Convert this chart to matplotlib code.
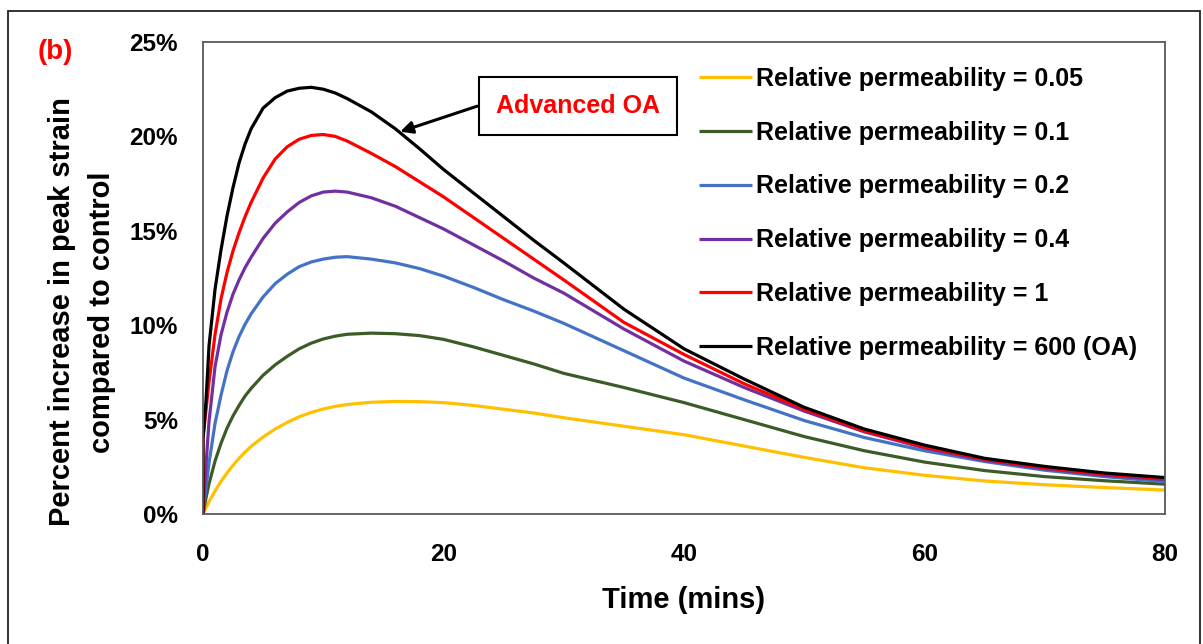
import matplotlib
matplotlib.use("Agg")
import matplotlib.pyplot as plt
from matplotlib.patches import Rectangle

plt.rcParams['font.family'] = ['Liberation Sans', 'DejaVu Sans']
plt.rcParams['font.weight'] = 'bold'

# ---- data (time in minutes, values in percent) ----
time = [0, 0, 0.25, 0.5, 1, 1.5, 2, 2.5, 3, 3.5, 4, 5, 6, 7, 8, 9, 10, 11, 12, 14, 16, 18, 20,
        22.5, 25, 27.5, 30, 35, 40, 45, 50, 55, 60, 65, 70, 75, 80]

perm_005 = [0, 0, 0.33, 0.65, 1.22, 1.73, 2.18, 2.58, 2.95, 3.28, 3.58, 4.08, 4.5, 4.85, 5.15, 5.38, 5.56, 5.7, 5.8,
            5.92, 5.96, 5.95, 5.9, 5.75, 5.55, 5.35, 5.1, 4.65, 4.2, 3.6, 3.0, 2.45, 2.05, 1.75, 1.55, 1.4, 1.27]
perm_01 = [0, 0, 0.85, 1.6, 2.8, 3.75, 4.55, 5.2, 5.75, 6.25, 6.65, 7.35, 7.9, 8.35, 8.75, 9.05, 9.27, 9.42, 9.52,
           9.58, 9.55, 9.45, 9.25, 8.85, 8.4, 7.95, 7.45, 6.7, 5.9, 5.0, 4.1, 3.35, 2.75, 2.3, 1.98, 1.76, 1.58]
perm_02 = [0, 0, 1.4, 2.7, 4.8, 6.3, 7.6, 8.6, 9.4, 10.05, 10.6, 11.5, 12.2, 12.7, 13.1, 13.35, 13.5, 13.6, 13.63,
           13.5, 13.3, 13.0, 12.6, 12.0, 11.35, 10.75, 10.1, 8.65, 7.2, 6.05, 4.95, 4.05, 3.35, 2.78, 2.32, 1.98, 1.71]
perm_04 = [0, 0, 2.6, 4.9, 7.8, 9.5, 10.7, 11.65, 12.4, 13.05, 13.6, 14.6, 15.4, 16.0, 16.5, 16.85, 17.05, 17.1, 17.05,
           16.75, 16.3, 15.7, 15.1, 14.25, 13.4, 12.5, 11.7, 9.8, 8.1, 6.7, 5.45, 4.35, 3.5, 2.85, 2.4, 2.05, 1.82]
perm_1 = [0, 4.0, 5.5, 7.0, 9.5, 11.4, 12.8, 13.95, 14.9, 15.75, 16.5, 17.8, 18.8, 19.45, 19.85, 20.05, 20.1, 20.0, 19.75,
          19.1, 18.4, 17.6, 16.8, 15.7, 14.6, 13.5, 12.4, 10.15, 8.45, 6.9, 5.55, 4.4, 3.55, 2.9, 2.45, 2.1, 1.88]
perm_600 = [0, 4.0, 6.0, 8.9, 11.9, 14.0, 15.8, 17.3, 18.6, 19.6, 20.4, 21.5, 22.05, 22.4, 22.55, 22.6, 22.5, 22.3, 22.0,
            21.3, 20.4, 19.35, 18.25, 17.0, 15.75, 14.5, 13.3, 10.85, 8.75, 7.15, 5.65, 4.5, 3.65, 2.95, 2.52, 2.17, 1.93]

labels = ["Relative permeability = 0.05", "Relative permeability = 0.1",
          "Relative permeability = 0.2", "Relative permeability = 0.4",
          "Relative permeability = 1", "Relative permeability = 600 (OA)"]
series = [perm_005, perm_01, perm_02, perm_04, perm_1, perm_600]
colors = ["#FFC000", "#3B5B27", "#4472C4", "#7030A0", "#FF0000", "#000000"]

xticks = [0, 20, 40, 60, 80]
yticks = [0, 5, 10, 15, 20, 25]
ytick_labels = ["0%", "5%", "10%", "15%", "20%", "25%"]

W, H = 1203, 644
fig = plt.figure(figsize=(W / 100, H / 100), dpi=100)
ax = fig.add_axes([203 / W, 1 - 514 / H, (1165 - 203) / W, (514 - 42) / H])

handles = []
for vals, lab, c in zip(series, labels, colors):
    h, = ax.plot(time, vals, color=c, lw=2.3, label=lab, solid_capstyle='butt',
                 solid_joinstyle='round')
    handles.append(h)

ax.set_xlim(0, 80)
ax.set_ylim(0, 25)
ax.set_xticks(xticks)
ax.set_xticklabels([str(v) for v in xticks])
ax.set_yticks(yticks)
ax.set_yticklabels(ytick_labels)
ax.tick_params(axis='both', length=0, labelsize=17.5)
ax.tick_params(axis='x', pad=21)
ax.tick_params(axis='y', pad=18)
for lab in ax.get_xticklabels() + ax.get_yticklabels():
    lab.set_fontweight('bold')
for sp in ax.spines.values():
    sp.set_color("#595959")
    sp.set_linewidth(1.3)

leg = ax.legend(handles=handles, loc='upper left', bbox_to_anchor=(699 / W, 1 - 67 / H),
                bbox_transform=fig.transFigure, frameon=False, fontsize=18,
                handlelength=2.1, handletextpad=0.2, labelspacing=1.19, borderpad=0,
                borderaxespad=0)
for t in leg.get_texts():
    t.set_fontweight('bold')

# annotation box and arrow
ax.text(31.2, 21.6, "Advanced OA", color='red', fontsize=18, fontweight='bold',
        ha='center', va='center',
        bbox=dict(boxstyle='square,pad=0.68', fc='white', ec='black', lw=1.5))
ax.annotate("", xy=(16.4, 20.25), xytext=(22.8, 21.6),
            arrowprops=dict(arrowstyle='-|>', color='black', lw=2.2, mutation_scale=18,
                            shrinkA=0, shrinkB=0))

fig.text(55 / W, 1 - 52 / H, "(b)", color='red', fontsize=20, fontweight='bold',
         ha='center', va='center')
fig.text(82 / W, 1 - 312 / H, "Percent increase in peak strain\ncompared to control",
         rotation=90, ha='center', va='center', fontsize=21, fontweight='bold', linespacing=1.5)
fig.text(684 / W, 1 - 600 / H, "Time (mins)", ha='center', va='center', fontsize=21,
         fontweight='bold')

fig.add_artist(Rectangle((8 / W, -0.05), (1200 - 8) / W, 1.05 - 11 / H,
                         transform=fig.transFigure, fill=False, ec='#222222', lw=1.3))

fig.savefig("out.png", dpi=100, facecolor='white')
